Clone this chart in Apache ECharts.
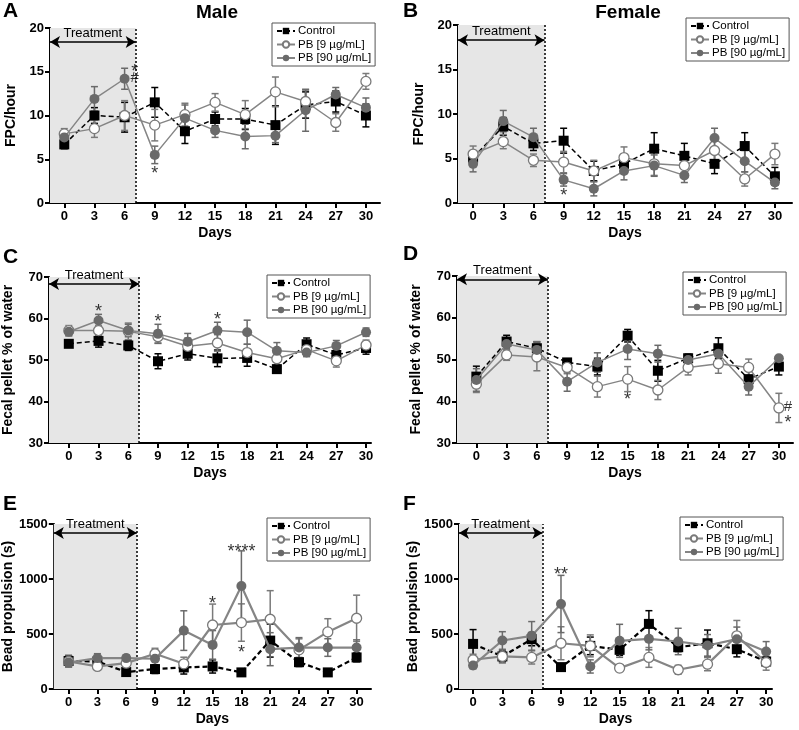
<!DOCTYPE html>
<html><head><meta charset="utf-8">
<script src="https://cdn.jsdelivr.net/npm/echarts@6/dist/echarts.min.js"></script>
<style>html,body{margin:0;padding:0;background:#fff}#c{width:799px;height:730px}</style>
</head><body><div id="c"></div>
<script>
const days = [0,3,6,9,12,15,18,21,24,27,30];
const seriesNames = ['Control','PB [9 µg/mL]','PB [90 µg/mL]'];
const tickDays = [0,3,6,9,12,15,18,21,24,27,30];

// Panel A – Male FPC/hour
const aControl = [6.7,10.0,9.8,11.5,8.2,9.6,9.6,8.9,11.2,11.6,10.0];
const aControlErr = [0.5,0.9,1.7,1.7,1.4,0.8,1.2,2.2,1.5,1.2,1.3];
const aPB9 = [7.9,8.5,10.0,8.9,10.1,11.5,10.1,12.7,11.6,9.2,13.9];
const aPB9Err = [0.6,1.0,1.7,1.8,1.3,1.0,1.6,1.7,1.3,1.0,0.9];
const aPB90 = [7.5,11.9,14.2,5.5,9.7,8.3,7.6,7.7,10.6,12.4,10.9];
const aPB90Err = [0.5,1.4,1.2,1.0,1.5,0.8,1.4,0.8,2.4,0.8,1.1];
// Panel B – Female FPC/hour
const bControl = [5.1,8.6,6.7,7.0,3.6,4.4,6.1,5.3,4.4,6.4,3.0];
const bControlErr = [0.6,1.0,0.8,1.4,1.1,0.9,1.8,1.4,1.1,1.5,1.0];
const bPB9 = [5.5,6.9,4.8,4.6,3.6,5.1,4.4,4.2,5.9,2.7,5.5];
const bPB9Err = [0.9,0.8,0.7,1.2,1.2,1.2,1.3,0.9,1.2,0.8,1.2];
const bPB90 = [4.4,9.2,7.4,2.6,1.6,3.6,4.2,3.1,7.3,4.7,2.3];
const bPB90Err = [0.9,1.2,1.0,0.7,0.8,1.0,1.2,0.8,1.1,1.2,0.7];
// Panel C – Male fecal water %
const cControl = [53.9,54.6,53.5,49.7,51.5,50.4,50.5,47.8,53.8,51.2,52.9];
const cControlErr = [0.7,1.5,1.2,1.8,1.5,2.0,2.0,0.8,1.5,1.0,1.5];
const cPB9 = [57.1,57.1,56.9,55.6,53.3,54.1,51.8,50.3,52.5,49.8,53.6];
const cPB9Err = [1.2,1.2,2.0,1.5,2.0,2.0,2.0,1.5,1.5,1.5,1.2];
const cPB90 = [56.8,59.5,57.1,56.3,54.4,57.1,56.7,52.2,51.8,53.4,56.7];
const cPB90Err = [1.0,1.5,1.5,2.3,2.0,2.0,2.9,2.0,1.0,1.3,1.0];
// Panel D – Female fecal water %
const dControl = [45.9,54.3,52.7,49.3,48.3,55.7,47.3,50.3,52.7,45.3,48.3];
const dControlErr = [2.5,1.5,1.5,0.7,2.0,1.5,2.5,1.0,2.5,2.0,2.0];
const dPB9 = [44.1,51.1,50.6,48.1,43.5,45.3,42.7,48.1,49.0,48.1,38.4];
const dPB9Err = [2.0,1.3,3.3,1.5,2.5,3.0,2.3,1.8,2.3,2.0,3.5];
const dPB90 = [45.1,53.7,52.3,44.7,49.3,52.5,51.4,49.9,51.4,43.5,50.3];
const dPB90Err = [2.7,1.5,2.0,2.3,2.3,2.5,2.0,1.0,2.0,2.0,0.5];
// Panel E – Male bead propulsion (s)
const eControl = [255,250,154,181,196,205,151,440,244,151,287];
const eControlErr = [50,40,30,40,60,60,30,150,40,30,40];
const ePB9 = [250,205,235,320,229,582,604,634,356,519,643];
const ePB9Err = [50,30,30,50,60,190,170,260,100,120,210];
const ePB90 = [241,281,281,275,531,401,936,362,377,377,377];
const ePB90Err = [40,40,30,80,180,130,320,150,90,80,70];
// Panel F – Female bead propulsion (s)
const fControl = [410,296,453,199,392,356,592,380,416,362,250];
const fControlErr = [130,50,60,30,80,50,120,40,120,70,40];
const fPB9 = [266,296,287,416,392,190,287,175,226,483,241];
const fPB9Err = [50,60,60,150,100,30,90,40,60,140,70];
const fPB90 = [214,441,483,773,205,438,456,432,395,453,341];
const fPB90Err = [30,80,130,260,60,150,100,120,100,110,90];

// Significance marks [day, value, text]
const aMarks = [[7.0,15.0,'*'],[7.0,14.3,'#'],[9,3.3,'*']];
const bMarks = [[9,0.8,'*']];
const cMarks = [[3,61.6,'*'],[9,59.1,'*'],[15,59.6,'*']];
const dMarks = [[15,40.2,'*'],[30.9,38.7,'#'],[30.9,34.8,'*']];
const eMarks = [[15,770,'*'],[18,1245,'****'],[18,330,'*']];
const fMarks = [[9,1040,'**']];

const treatmentEnd = 7.1;

const panels = [
  {ctrl:aControl,ce:aControlErr,p9:aPB9,p9e:aPB9Err,p90:aPB90,p90e:aPB90Err,marks:aMarks,
   grid:{left:50,top:28,width:330,height:175},x:[-1.42,31.4],y:[0,20,5],arrowY:18.4,yName:'FPC/hour',
   legend:{left:272,top:23},lw:1.5},
  {ctrl:bControl,ce:bControlErr,p9:bPB9,p9e:bPB9Err,p90:bPB90,p90e:bPB90Err,marks:bMarks,
   grid:{left:458,top:25,width:334,height:178},x:[-1.5,31.7],y:[0,20,5],arrowY:18.3,yName:'FPC/hour',
   legend:{left:686,top:18},lw:1.5},
  {ctrl:cControl,ce:cControlErr,p9:cPB9,p9e:cPB9Err,p90:cPB90,p90e:cPB90Err,marks:cMarks,
   grid:{left:49,top:277,width:322,height:166},x:[-2.0,30.5],y:[30,70,10],arrowY:68.3,yName:'Fecal pellet % of water',
   legend:{left:267,top:275},lw:1.5},
  {ctrl:dControl,ce:dControlErr,p9:dPB9,p9e:dPB9Err,p90:dPB90,p90e:dPB90Err,marks:dMarks,
   grid:{left:457,top:276,width:336,height:167},x:[-1.92,31.4],y:[30,70,10],arrowY:69.2,yName:'Fecal pellet % of water',
   legend:{left:683,top:272},lw:1.5},
  {ctrl:eControl,ce:eControlErr,p9:ePB9,p9e:ePB9Err,p90:ePB90,p90e:ePB90Err,marks:eMarks,
   grid:{left:50,top:524,width:321,height:165},x:[-1.54,31.5],y:[0,1500,500],arrowY:1418,yName:'Bead propulsion (s)',
   legend:{left:267,top:518},lw:2.2},
  {ctrl:fControl,ce:fControlErr,p9:fPB9,p9e:fPB9Err,p90:fPB90,p90e:fPB90Err,marks:fMarks,
   grid:{left:459,top:524,width:313,height:165},x:[-1.44,30.6],y:[0,1500,500],arrowY:1418,yName:'Bead propulsion (s)',
   legend:{left:680,top:517},lw:2.2}
];

const FONT = 'Liberation Sans, Arial, Helvetica, sans-serif';
const grids = [], xAxes = [], yAxes = [], series = [], legends = [];
const colCtrl = '#000', colLine = '#858585', col9 = '#7a7a7a', col90 = '#6a6a6a';

function errSeries(idx, mean, err, color, z, lw) {
  return {
    type:'custom', xAxisIndex:idx, yAxisIndex:idx, z:z, silent:true,
    data: days.map((d,i)=>[d, mean[i]-err[i], mean[i]+err[i]]),
    renderItem:(params, api)=>{
      const lo = api.coord([api.value(0), api.value(1)]);
      const hi = api.coord([api.value(0), api.value(2)]);
      const w = 3.5;
      const st = {stroke:color, lineWidth:lw};
      return {type:'group', children:[
        {type:'line', shape:{x1:lo[0],y1:lo[1],x2:hi[0],y2:hi[1]}, style:st},
        {type:'line', shape:{x1:lo[0]-w,y1:lo[1],x2:lo[0]+w,y2:lo[1]}, style:st},
        {type:'line', shape:{x1:hi[0]-w,y1:hi[1],x2:hi[0]+w,y2:hi[1]}, style:st}
      ]};
    }
  };
}

panels.forEach((p,i)=>{
  grids.push(Object.assign({}, p.grid));
  xAxes.push({
    gridIndex:i, type:'value', min:p.x[0], max:p.x[1],
    axisLine:{show:true, onZero:false, lineStyle:{color:'#000', width:2}},
    axisTick:{show:true, customValues:tickDays, length:5, lineStyle:{color:'#000', width:2}},
    axisLabel:{customValues:tickDays, color:'#000', fontWeight:'bold', fontSize:13, fontFamily:FONT, margin:7},
    splitLine:{show:false},
    name:'Days', nameLocation:'middle', nameGap:23,
    nameTextStyle:{color:'#000', fontWeight:'bold', fontSize:14, fontFamily:FONT}
  });
  yAxes.push({
    gridIndex:i, type:'value', min:p.y[0], max:p.y[1], interval:p.y[2],
    axisLine:{show:true, onZero:false, lineStyle:{color:'#000', width:2}},
    axisTick:{show:true, length:5, lineStyle:{color:'#000', width:2}},
    axisLabel:{color:'#000', fontWeight:'bold', fontSize:13, fontFamily:FONT, margin:6, formatter:v=>String(v)},
    splitLine:{show:false},
    name:p.yName, nameLocation:'middle', nameGap:i>=4?36:(i>=2?34:32),
    nameTextStyle:{color:'#000', fontWeight:'bold', fontSize:14, fontFamily:FONT}
  });
  const xmin = p.x[0];
  series.push({
    type:'scatter', xAxisIndex:i, yAxisIndex:i, z:1, silent:true,
    symbolSize:1, itemStyle:{color:'transparent'},
    data:p.marks.map(m=>({value:[m[0],m[1]], label:{formatter:m[2], fontSize:m[2]==='#'?15:18}})),
    label:{show:true, position:'inside', color:'#000', fontFamily:FONT},
    markArea:{silent:true, itemStyle:{color:'#e6e6e6'}, data:[[{xAxis:xmin},{xAxis:treatmentEnd}]]},
    markLine:{silent:true, symbol:'none', animation:false,
      data:[
        [{coord:[treatmentEnd,p.y[0]], lineStyle:{type:[2,2], color:'#000', width:1.5}, label:{show:false}},
         {coord:[treatmentEnd,p.y[1]]}],
        [{coord:[xmin,p.arrowY], symbol:'arrow', symbolSize:[9,10], lineStyle:{type:'solid', color:'#000', width:1.5},
          label:{show:true, formatter:'Treatment', position:'insideMiddleTop', distance:2, color:'#000', fontSize:13, fontFamily:FONT}},
         {coord:[treatmentEnd,p.arrowY], symbol:'arrow', symbolSize:[9,10]}]
      ]}
  });
  series.push(errSeries(i, p.ctrl, p.ce, colCtrl, 3, 1.5));
  series.push(errSeries(i, p.p9, p.p9e, col9, 3, 1.5));
  series.push(errSeries(i, p.p90, p.p90e, col90, 3, 1.5));
  series.push({
    name:seriesNames[0], type:'line', xAxisIndex:i, yAxisIndex:i, z:5,
    data:days.map((d,k)=>[d,p.ctrl[k]]), symbol:'rect', symbolSize:10,
    lineStyle:{color:colCtrl, width:p.lw, type:[5,3]}, itemStyle:{color:colCtrl, borderWidth:0}
  });
  series.push({
    name:seriesNames[1], type:'line', xAxisIndex:i, yAxisIndex:i, z:6,
    data:days.map((d,k)=>[d,p.p9[k]]), symbol:'circle', symbolSize:10,
    lineStyle:{color:colLine, width:p.lw}, itemStyle:{color:'#fff', borderColor:col9, borderWidth:1.3}
  });
  series.push({
    name:seriesNames[2], type:'line', xAxisIndex:i, yAxisIndex:i, z:7,
    data:days.map((d,k)=>[d,p.p90[k]]), symbol:'circle', symbolSize:10,
    lineStyle:{color:colLine, width:p.lw}, itemStyle:{color:col90, borderWidth:0}
  });
  legends.push({
    left:p.legend.left, top:p.legend.top, orient:'vertical', data:seriesNames,
    borderColor:'#555', borderWidth:1, padding:[2,4,2,4], itemGap:1.5, itemWidth:18, itemHeight:8,
    selectedMode:false, textStyle:{color:'#000', fontSize:11.5, fontFamily:FONT, padding:[0,0,0,-2]}
  });
});

const chart = echarts.init(document.getElementById('c'), null, {renderer:'canvas'});
chart.setOption({
  animation:false,
  backgroundColor:'#fff',
  grid:grids, xAxis:xAxes, yAxis:yAxes, series:series, legend:legends,
  graphic:[
    {type:'text', left:3, top:1, style:{text:'A', fontSize:21, fontWeight:'bold', fontFamily:FONT, fill:'#000'}},
    {type:'text', left:403, top:1, style:{text:'B', fontSize:21, fontWeight:'bold', fontFamily:FONT, fill:'#000'}},
    {type:'text', left:3, top:247, style:{text:'C', fontSize:21, fontWeight:'bold', fontFamily:FONT, fill:'#000'}},
    {type:'text', left:403, top:244, style:{text:'D', fontSize:21, fontWeight:'bold', fontFamily:FONT, fill:'#000'}},
    {type:'text', left:3, top:494, style:{text:'E', fontSize:21, fontWeight:'bold', fontFamily:FONT, fill:'#000'}},
    {type:'text', left:403, top:494, style:{text:'F', fontSize:21, fontWeight:'bold', fontFamily:FONT, fill:'#000'}},
    {type:'text', x:217, y:3, style:{text:'Male', fontSize:19, fontWeight:'bold', fontFamily:FONT, fill:'#000', align:'center'}},
    {type:'text', x:628, y:3, style:{text:'Female', fontSize:19, fontWeight:'bold', fontFamily:FONT, fill:'#000', align:'center'}}
  ]
});
</script></body></html>
